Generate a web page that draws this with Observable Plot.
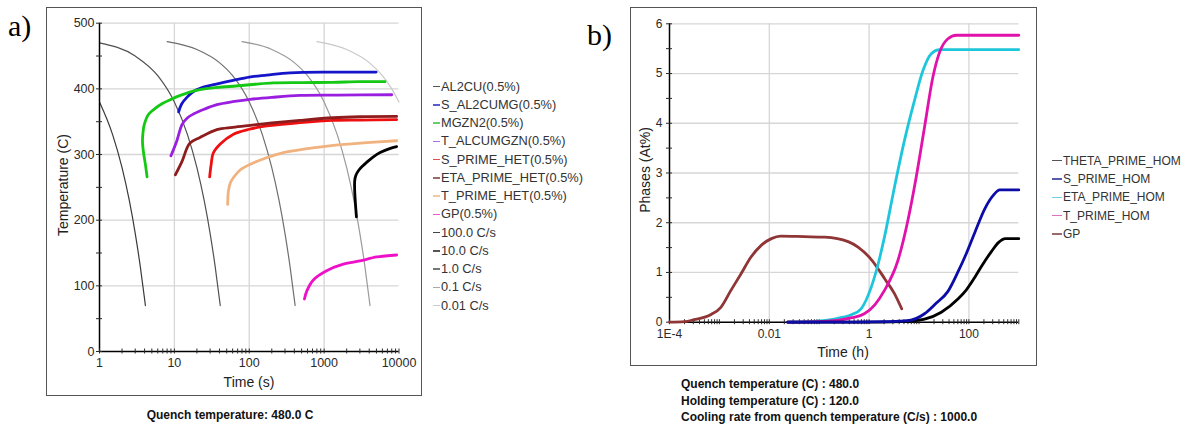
<!DOCTYPE html>
<html><head><meta charset="utf-8">
<script src="https://cdn.jsdelivr.net/npm/d3@7"></script>
<script src="https://cdn.jsdelivr.net/npm/@observablehq/plot@0.6"></script>
<style>
body{margin:0;background:#fff;}
#page{position:relative;width:1186px;height:429px;overflow:hidden;font-family:"Liberation Sans",Arial,sans-serif;color:#222;}
.abs{position:absolute;white-space:nowrap;line-height:1;}
.box{position:absolute;border:1.5px solid #555;box-sizing:border-box;}
.plot{position:absolute;}
.lbl{font-family:"Liberation Serif","Times New Roman",serif;font-size:30px;line-height:30px;color:#000;}
.ttl{font-size:14px;color:#222;}
.cap{font-weight:bold;font-size:12px;color:#111;}
.leg{font-size:12.8px;color:#333;}
.dash{position:absolute;height:1.5px;}
</style></head><body><div id="page"></div>
<script>
// ---------- Panel a: CCT diagram (time s, temperature C) ----------
const t_AL2CU = [2700, 2620, 2560, 2560, 2650, 2900, 3300, 3700, 4500, 5600, 7500, 9300];
const T_AL2CU = [205, 225, 245, 260, 268, 276, 283, 288, 296, 303, 309, 312];
const t_S_AL2CUMG = [11.4, 12.5, 14.7, 18, 25, 35, 61, 100, 172, 350, 1300, 4950];
const T_S_AL2CUMG = [365, 377, 387, 396, 403, 407, 413, 418, 421, 424.5, 425.5, 425.5];
const t_MGZN2 = [4.32, 4.1, 3.85, 3.75, 3.8, 3.95, 4.5, 5.5, 7, 9, 12, 16, 22, 35, 61, 120, 210, 500, 1300, 3000, 6500];
const T_MGZN2 = [266, 285, 305, 320, 332, 345, 361, 370, 378, 384, 390, 395, 399, 402, 404, 407, 409, 409.5, 410, 411, 411];
const t_T_ALCUMGZN = [9, 10.8, 12.7, 15, 18.2, 25, 37, 60, 103, 200, 475, 1500, 8000];
const T_T_ALCUMGZN = [298, 321, 346, 356, 362, 369, 376, 380.5, 384, 387, 390, 390.5, 391];
const t_S_PRIME_HET = [29.6, 31, 33, 41, 61.6, 100, 172, 475, 1330, 3000, 9300];
const T_S_PRIME_HET = [266, 285, 302, 316, 331, 338.5, 343.5, 348.5, 352, 352.5, 353];
const t_ETA_PRIME_HET = [10.3, 12.7, 16, 22, 37, 60, 103, 200, 475, 1330, 3000, 9300];
const T_ETA_PRIME_HET = [269, 290, 317, 326, 338, 341.5, 344.5, 348, 352, 356, 357.5, 358];
const t_T_PRIME_HET = [51.5, 52.8, 56, 61.6, 75, 103, 170, 286, 600, 1330, 3700, 9300];
const T_T_PRIME_HET = [224, 245, 257, 265, 276, 285, 295, 303, 309, 314, 318, 321];
const t_GP_a = [546, 590, 718, 1080, 1800, 3000, 5070, 9300];
const T_GP_a = [80, 92.7, 109, 123, 133, 138, 144, 147];
// cooling curves
const t_c100 = [1, 1.5, 2, 2.5, 3, 3.5, 4, 4.1];
const T_c100 = [380, 330, 280, 230, 180, 130, 80, 70];
const t_c10 = [1, 3, 6, 10, 15, 20, 25, 30, 35, 41];
const T_c10 = [470, 450, 420, 380, 330, 280, 230, 180, 130, 70];
const t_c1 = [8, 20, 40, 60, 100, 150, 200, 250, 300, 350, 410];
const T_c1 = [472, 460, 440, 420, 380, 330, 280, 230, 180, 130, 70];
const t_c01 = [80, 200, 400, 600, 1000, 1500, 2000, 2500, 3000, 3500, 4100];
const T_c01 = [472, 460, 440, 420, 380, 330, 280, 230, 180, 130, 70];
const t_c001 = [800, 2000, 4000, 6000, 8000, 10000];
const T_c001 = [472, 460, 440, 420, 400, 380];

const namesA = ["AL2CU(0.5%)","S_AL2CUMG(0.5%)","MGZN2(0.5%)","T_ALCUMGZN(0.5%)","S_PRIME_HET(0.5%)","ETA_PRIME_HET(0.5%)","T_PRIME_HET(0.5%)","GP(0.5%)","100.0 C/s","10.0 C/s","1.0 C/s","0.1 C/s","0.01 C/s"];
const colorsA = ["#000000","#1414c8","#14c814","#9a1ee0","#ee1010","#8e1c1c","#f0b27e","#ee10c8","#3a3a3a","#505050","#6e6e6e","#9a9a9a","#c8c8c8"];
const legColorsA = ["#555","#5a5ad0","#6ccc6c","#b06ee0","#e05050","#9a6a6a","#f2c8a0","#ee55d0","#444","#555","#777","#aaa","#cdcdcd"];
const xTicksA = [1, 10, 100, 1000, 10000];
const yTicksA = [0, 100, 200, 300, 400, 500];

// ---------- Panel b: phases (At%) vs time (h) ----------
const t_THETA = [0.0235, 1, 3, 6, 12.9, 28, 61, 89, 131, 178, 282, 390, 540, 1000];
const v_THETA = [0, 0, 0.005, 0.02, 0.06, 0.2, 0.47, 0.65, 0.9, 1.12, 1.42, 1.6, 1.68, 1.68];
const t_SPRIME = [0.0235, 0.5, 2, 6, 12.9, 22, 38, 61, 82, 131, 208, 307, 417, 1000];
const v_SPRIME = [0, 0, 0.01, 0.03, 0.17, 0.38, 0.62, 1.02, 1.3, 1.8, 2.28, 2.55, 2.66, 2.66];
const t_ETA = [0.0235, 0.06, 0.12, 0.2, 0.3, 0.44, 0.69, 1.1, 1.5, 2.03, 3.23, 5.13, 8.13, 12, 17.6, 25.9, 1000];
const v_ETA = [0, 0.01, 0.03, 0.06, 0.1, 0.15, 0.27, 0.7, 1.15, 1.71, 2.72, 3.66, 4.46, 5.06, 5.4, 5.48, 5.48];
const t_TPRIME = [0.0235, 0.06, 0.12, 0.25, 0.45, 0.8, 1.3, 2.03, 3.78, 6.0, 8.8, 12.9, 19, 25.9, 38, 56, 1000];
const v_TPRIME = [0, 0.005, 0.015, 0.04, 0.09, 0.17, 0.35, 0.64, 1.24, 2.05, 2.92, 3.92, 4.93, 5.43, 5.7, 5.77, 5.77];
const t_GP_b = [1e-4, 2e-4, 3.1e-4, 6.8e-4, 1.07e-3, 1.7e-3, 2.7e-3, 4.3e-3, 6.8e-3, 0.011, 0.017, 0.05, 0.13, 0.38, 0.6, 1.15, 2.1, 3.2, 4.5];
const v_GP_b = [0, 0.01, 0.05, 0.155, 0.3, 0.64, 0.97, 1.31, 1.54, 1.68, 1.73, 1.72, 1.71, 1.62, 1.51, 1.24, 0.86, 0.58, 0.27];

const namesB = ["THETA_PRIME_HOM","S_PRIME_HOM","ETA_PRIME_HOM","T_PRIME_HOM","GP"];
const colorsB = ["#000000","#0c0ca8","#1ec6dc","#e012aa","#903535"];
const legColorsB = ["#555","#5a5aaa","#70d0e0","#e070c0","#9a6a6a"];
const xTicksB = [1e-4, 0.01, 1, 100];
const xLabelsB = ["1E-4", "0.01", "1", "100"];
const yTicksB = [0, 1, 2, 3, 4, 5, 6];

// ---------- helpers ----------
const page = document.getElementById("page");
function add(html, cls, left, top, extra = "") {
  const d = document.createElement("div");
  d.className = "abs " + cls;
  d.style.cssText = `left:${left}px;top:${top}px;${extra}`;
  d.textContent = html;
  page.appendChild(d);
  return d;
}
function zip(ts, vs) { return ts.map((t, i) => ({t, v: vs[i]})); }
const gridStyle = {stroke: "#d6d6d6", strokeOpacity: 1, strokeWidth: 1.3};
const plotStyleA = {fontFamily: "'Liberation Sans', Arial, sans-serif", fontSize: "12.5px", color: "#2a2a2a", background: "transparent", overflow: "visible"};
const plotStyleB = {...plotStyleA, fontSize: "12px"};

// ---------- Panel a ----------
const boxA = document.createElement("div"); boxA.className = "box";
boxA.style.cssText = "left:46px;top:7px;width:376px;height:389px;"; page.appendChild(boxA);

const seriesA = [
  [t_AL2CU, T_AL2CU], [t_S_AL2CUMG, T_S_AL2CUMG], [t_MGZN2, T_MGZN2], [t_T_ALCUMGZN, T_T_ALCUMGZN],
  [t_S_PRIME_HET, T_S_PRIME_HET], [t_ETA_PRIME_HET, T_ETA_PRIME_HET], [t_T_PRIME_HET, T_T_PRIME_HET], [t_GP_a, T_GP_a],
  [t_c100, T_c100], [t_c10, T_c10], [t_c1, T_c1], [t_c01, T_c01], [t_c001, T_c001]
];
const linesA = seriesA.map(([ts, vs], i) => Plot.line(zip(ts, vs), {
  x: "t", y: "v", stroke: colorsA[i], strokeWidth: i < 8 ? 2.8 : 1.2,
  curve: i < 8 ? "catmull-rom" : "monotone-x"
}));
const plotA = Plot.plot({
  width: 375, height: 388,
  marginLeft: 53, marginRight: 22.5, marginTop: 15.7, marginBottom: 44,
  x: {type: "log", domain: [1, 10000]},
  y: {domain: [0, 500]},
  style: plotStyleA,
  marks: [
    Plot.gridX([10, 100, 1000], gridStyle),
    Plot.gridY(yTicksA.slice(1), gridStyle),
    ...linesA.slice(8), ...linesA.slice(0, 8),
    Plot.ruleY([0], {stroke: "#000", strokeWidth: 1.5}),
    Plot.ruleX([1], {stroke: "#000", strokeWidth: 1.5}),
    Plot.axisX({ticks: 20, tickSize: 5, dy: -2.5, tickFormat: () => "", label: null}),
    Plot.axisX(xTicksA, {tickSize: 0, tickPadding: 7, tickFormat: d => String(d), label: null}),
    Plot.axisY({ticks: 10, tickSize: 6, dx: 3, tickFormat: () => "", label: null}),
    Plot.axisY(yTicksA, {tickSize: 0, tickPadding: 5, tickFormat: d => String(d), label: null})
  ]
});
const wA = document.createElement("div"); wA.className = "plot"; wA.style.cssText = "left:46px;top:7px;";
wA.appendChild(plotA); page.appendChild(wA);

add("a)", "lbl", 8, 11);
add("Time (s)", "ttl", 249, 382, "transform:translate(-50%,-50%);");
add("Temperature (C)", "ttl", 63, 185, "transform:translate(-50%,-50%) rotate(-90deg);");
add("Quench temperature: 480.0 C", "cap", 230, 415, "transform:translate(-50%,-50%);");
namesA.forEach((n, i) => {
  const y = 86.7 + 18.25 * i;
  const d = document.createElement("div"); d.className = "dash";
  d.style.cssText = `left:433px;top:${y - 0.75}px;width:7px;background:${legColorsA[i]};`;
  page.appendChild(d);
  add(n, "leg", 441, y, "transform:translateY(-50%);");
});

// ---------- Panel b ----------
const boxB = document.createElement("div"); boxB.className = "box";
boxB.style.cssText = "left:630px;top:7px;width:407px;height:359px;"; page.appendChild(boxB);

const seriesB = [[t_GP_b, v_GP_b], [t_ETA, v_ETA], [t_TPRIME, v_TPRIME], [t_THETA, v_THETA], [t_SPRIME, v_SPRIME]];
const colB = [colorsB[4], colorsB[2], colorsB[3], colorsB[0], colorsB[1]];
const linesB = seriesB.map(([ts, vs], i) => Plot.line(zip(ts, vs), {
  x: "t", y: "v", stroke: colB[i], strokeWidth: 2.8, curve: "monotone-x"
}));
const plotB = Plot.plot({
  width: 406, height: 358,
  marginLeft: 39, marginRight: 17.7, marginTop: 16.3, marginBottom: 43.3,
  x: {type: "log", domain: [1e-4, 1000]},
  y: {domain: [0, 6]},
  style: plotStyleB,
  marks: [
    Plot.gridX(xTicksB.slice(1), gridStyle),
    Plot.gridY(yTicksB.slice(1), gridStyle),
    Plot.ruleY([0], {stroke: "#000", strokeWidth: 1.5}),
    Plot.ruleX([1e-4], {stroke: "#000", strokeWidth: 1.5}),
    Plot.axisX({ticks: 30, tickSize: 5, dy: -2.5, tickFormat: () => "", label: null}),
    Plot.axisX(xTicksB, {tickSize: 0, tickPadding: 7.5, tickFormat: d => xLabelsB[xTicksB.indexOf(d)], label: null}),
    Plot.axisY({ticks: 12, tickSize: 6, dx: 3, tickFormat: () => "", label: null}),
    Plot.axisY(yTicksB, {tickSize: 0, tickPadding: 7, tickFormat: d => String(d), label: null}),
    ...linesB
  ]
});
const wB = document.createElement("div"); wB.className = "plot"; wB.style.cssText = "left:630px;top:7px;";
wB.appendChild(plotB); page.appendChild(wB);

add("b)", "lbl", 587, 20);
add("Time (h)", "ttl", 843, 352, "transform:translate(-50%,-50%);");
add("Phases (At%)", "ttl", 645, 170, "transform:translate(-50%,-50%) rotate(-90deg);");
add("Quench temperature (C) : 480.0", "cap", 681, 384, "transform:translateY(-50%);");
add("Holding temperature (C) : 120.0", "cap", 681, 400.7, "transform:translateY(-50%);");
add("Cooling rate from quench temperature (C/s) : 1000.0", "cap", 681, 417.3, "transform:translateY(-50%);");
namesB.forEach((n, i) => {
  const y = 160.7 + 18.3 * i;
  const d = document.createElement("div"); d.className = "dash";
  d.style.cssText = `left:1052px;top:${y - 0.75}px;width:10px;background:${legColorsB[i]};`;
  page.appendChild(d);
  add(n, "leg", 1063, y, "transform:translateY(-50%);font-size:12px;");
});
</script></body></html>
